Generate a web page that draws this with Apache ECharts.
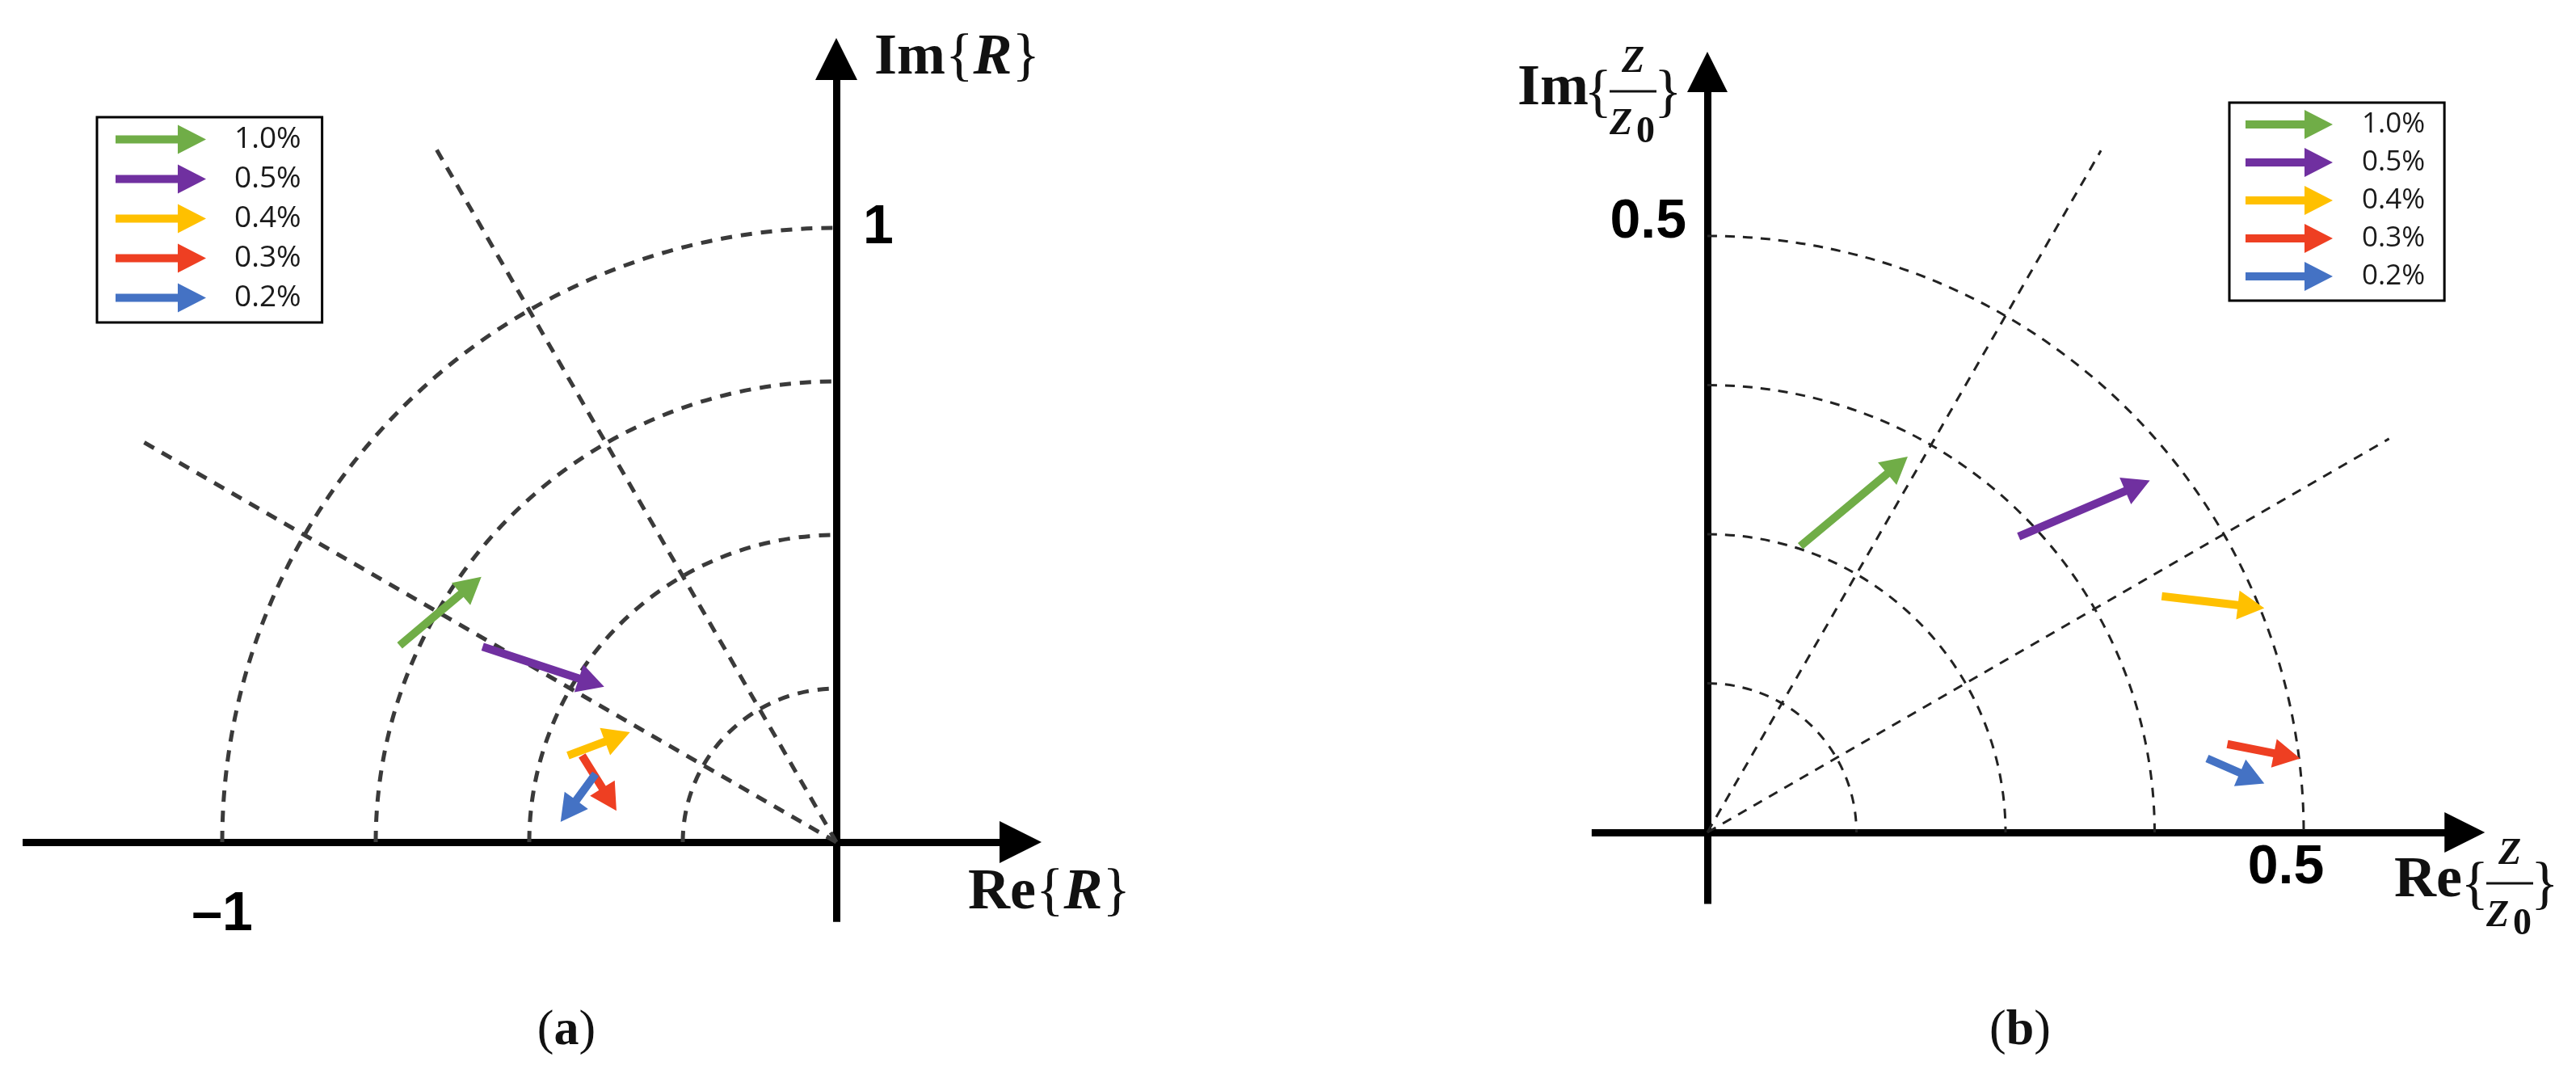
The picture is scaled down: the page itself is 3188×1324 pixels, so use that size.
<!DOCTYPE html>
<html><head><meta charset="utf-8">
<script src="https://cdn.jsdelivr.net/npm/echarts@6/dist/echarts.min.js"></script>
<style>html,body{margin:0;padding:0;background:#fff}#c{width:3188px;height:1324px}</style>
</head><body><div id="c"></div>
<script>
// ---------------- data ----------------
const seriesNames = ['1.0%', '0.5%', '0.4%', '0.3%', '0.2%'];
const seriesColors = ['#70AD47', '#7030A0', '#FFC000', '#EE3F22', '#4472C4'];
// panel (a) : Re{R}, Im{R}; each arrow = [xStart, yStart, xEnd, yEnd]
const arrowsA = [
  [-0.711, 0.320, -0.578, 0.432],
  [-0.576, 0.318, -0.378, 0.253],
  [-0.437, 0.141, -0.336, 0.179],
  [-0.414, 0.141, -0.358, 0.051],
  [-0.392, 0.111, -0.449, 0.033]
];
// panel (b) : Re{Z/Z0}, Im{Z/Z0}
const arrowsB = [
  [0.078, 0.240, 0.168, 0.315],
  [0.261, 0.248, 0.371, 0.295],
  [0.381, 0.198, 0.467, 0.188],
  [0.436, 0.074, 0.497, 0.062],
  [0.419, 0.062, 0.467, 0.041]
];
const circleRadiiA = [0.25, 0.5, 0.75, 1.0];
const circleRadiiB = [0.125, 0.25, 0.375, 0.5];
const radialAnglesA = [120, 150];
const radialLengthA = [1.31, 1.31];
const radialAnglesB = [60, 30];
const radialLengthB = [0.66, 0.66];
const tickValuesAx = [-1];
const tickValuesAy = [1];
const tickValuesBx = [0.5];
const tickValuesBy = [0.5];

// ---------------- layout (pixels) ----------------
const PA = {ox: 1035, oy: 1042, unit: 760, xMin: -1.325, xMax: 0.3, yMin: -0.13, yMax: 1.275, head: 52};
const PB = {ox: 2113, oy: 1030, unit: 1476, xMin: -0.097, xMax: 0.635, yMin: -0.06, yMax: 0.6375, head: 50};
function gridOf(p) {
  return {
    left: p.ox + p.xMin * p.unit,
    top: p.oy - p.yMax * p.unit,
    width: (p.xMax - p.xMin) * p.unit,
    height: (p.yMax - p.yMin) * p.unit,
    containLabel: false,
    outerBoundsMode: 'none'
  };
}
const SERIF = '"Liberation Serif", "Times New Roman", serif';
const SANS = '"Liberation Sans", Arial, sans-serif';
const LEGFONT = '"Open Sans", "Noto Sans", sans-serif';

function axisLineOf(p) {
  return {onZero: false, symbol: ['none', 'triangle'], symbolSize: [p.head, p.head],
    lineStyle: {color: '#000', width: 9, cap: 'butt'}};
}
const tickFmt = v => (v < 0 ? '\u2013' : '') + Math.abs(v);

// axes are shifted (offset) so that they cross at the origin, labels included
function xAxisOf(idx, p, vals, labelExtra) {
  return {
    gridIndex: idx, type: 'value', min: p.xMin, max: p.xMax, position: 'bottom',
    offset: p.yMin * p.unit,
    axisLine: axisLineOf(p), axisTick: {show: false}, splitLine: {show: false},
    axisLabel: Object.assign({customValues: vals, formatter: tickFmt, fontFamily: SANS,
      fontWeight: 'bold', fontSize: 68, color: '#000'}, labelExtra)
  };
}
function yAxisOf(idx, p, vals, labelExtra) {
  return {
    gridIndex: idx, type: 'value', min: p.yMin, max: p.yMax, position: 'left',
    offset: p.xMin * p.unit,
    axisLine: axisLineOf(p), axisTick: {show: false}, splitLine: {show: false},
    axisLabel: Object.assign({customValues: vals, formatter: tickFmt, fontFamily: SANS,
      fontWeight: 'bold', fontSize: 68, color: '#000'}, labelExtra)
  };
}

function arcSeries(idx, radii, startA, endA, style) {
  return {
    type: 'custom', xAxisIndex: idx, yAxisIndex: idx, silent: true, z: 2,
    data: radii.map(r => [r, 0]),
    renderItem(params, api) {
      const c = api.coord([0, 0]);
      const r = api.size([api.value(0), 0])[0];
      return {type: 'arc', shape: {cx: c[0], cy: c[1], r: r, startAngle: startA, endAngle: endA, clockwise: true},
        style: Object.assign({fill: null}, style)};
    }
  };
}
function radialSeries(idx, angles, lengths, style) {
  return {
    type: 'custom', xAxisIndex: idx, yAxisIndex: idx, silent: true, z: 2,
    data: angles.map((a, i) => [a, lengths[i]]),
    renderItem(params, api) {
      const ang = api.value(0) * Math.PI / 180, L = api.value(1);
      const p0 = api.coord([0, 0]);
      const p1 = api.coord([L * Math.cos(ang), L * Math.sin(ang)]);
      return {type: 'line', shape: {x1: p0[0], y1: p0[1], x2: p1[0], y2: p1[1]},
        style: Object.assign({fill: null}, style)};
    }
  };
}
function arrowSeries(idx, i, arr) {
  const color = seriesColors[i];
  return {
    type: 'custom', name: seriesNames[i], xAxisIndex: idx, yAxisIndex: idx, z: 5,
    itemStyle: {color: color},
    data: [arr[i]],
    renderItem(params, api) {
      const a = api.coord([api.value(0), api.value(1)]);
      const b = api.coord([api.value(2), api.value(3)]);
      const dx = b[0] - a[0], dy = b[1] - a[1];
      const len = Math.sqrt(dx * dx + dy * dy);
      const ux = dx / len, uy = dy / len, nx = -uy, ny = ux;
      const hl = 33, hw = 18, sw = 5;
      const bx = b[0] - ux * hl, by = b[1] - uy * hl;
      const pts = [
        [a[0] + nx * sw, a[1] + ny * sw], [bx + nx * sw, by + ny * sw], [bx + nx * hw, by + ny * hw],
        [b[0], b[1]],
        [bx - nx * hw, by - ny * hw], [bx - nx * sw, by - ny * sw], [a[0] - nx * sw, a[1] - ny * sw]
      ];
      return {type: 'polygon', shape: {points: pts}, style: {fill: color}};
    }
  };
}

const dashA = {stroke: '#3a3a3a', lineWidth: 5, lineDash: [14, 11]};
const dashB = {stroke: '#222', lineWidth: 3, lineDash: [12, 10]};

function legendOf(left, top, iw, gap, fs, pad, textPad) {
  const shaft = iw - 35;
  return {
    data: seriesNames, orient: 'vertical', left: left, top: top,
    itemWidth: iw, itemHeight: 36, itemGap: gap, selectedMode: false,
    icon: 'path://M0,13L' + shaft + ',13L' + shaft + ',0L' + iw + ',18L' + shaft + ',36L' + shaft + ',23L0,23Z',
    padding: pad, borderColor: '#000', borderWidth: 3, backgroundColor: '#fff',
    textStyle: {fontFamily: LEGFONT, fontSize: fs, color: '#1a1a1a', padding: [0, 0, 0, textPad]}
  };
}

// fraction axis name builder
function fracLabel(prefix, x0, barX1, barX2, barY) {
  const cx = (barX1 + barX2) / 2;
  return {
    type: 'group', children: [
      {type: 'text', x: x0, y: barY - 3, style: {text: prefix, font: 'bold 72px ' + SERIF, fill: '#111', align: 'left', verticalAlign: 'middle'}},
      {type: 'text', x: barX1 + 3, y: barY + 4, style: {text: '{', font: '72px ' + SERIF, fill: '#111', align: 'right', verticalAlign: 'middle'}},
      {type: 'line', shape: {x1: barX1, y1: barY, x2: barX2, y2: barY}, style: {stroke: '#111', lineWidth: 3}},
      {type: 'text', x: cx, y: barY - 36, style: {text: 'Z', font: 'italic bold 46px ' + SERIF, fill: '#111', align: 'center', verticalAlign: 'middle'}},
      {type: 'text', x: barX1, y: barY + 41, style: {text: 'Z', font: 'italic bold 46px ' + SERIF, fill: '#111', align: 'left', verticalAlign: 'middle'}},
      {type: 'text', x: barX1 + 33, y: barY + 51, style: {text: '0', font: 'bold 46px ' + SERIF, fill: '#111', align: 'left', verticalAlign: 'middle'}},
      {type: 'text', x: barX2 - 3, y: barY + 4, style: {text: '}', font: '72px ' + SERIF, fill: '#111', align: 'left', verticalAlign: 'middle'}}
    ]
  };
}
function simpleLabel(prefix, sym, x0, midY) {
  return {
    type: 'text', x: x0, y: midY,
    style: {
      text: '{b|' + prefix + '}{{bi|' + sym + '}}',
      font: '72px ' + SERIF, fill: '#111', align: 'left', verticalAlign: 'middle',
      rich: {
        b: {fontFamily: SERIF, fontWeight: 'bold', fontSize: 72, fill: '#111'},
        bi: {fontFamily: SERIF, fontWeight: 'bold', fontStyle: 'italic', fontSize: 72, fill: '#111'}
      }
    }
  };
}
function caption(letter, x, y) {
  return {
    type: 'text', x: x, y: y,
    style: {
      text: '({b|' + letter + '})', font: '62px ' + SERIF, fill: '#111', align: 'center', verticalAlign: 'middle',
      rich: {b: {fontFamily: SERIF, fontWeight: 'bold', fontSize: 62, fill: '#111'}}
    }
  };
}

const series = [
  arcSeries(0, circleRadiiA, Math.PI, Math.PI * 1.5, dashA),
  radialSeries(0, radialAnglesA, radialLengthA, dashA),
  arcSeries(1, circleRadiiB, -Math.PI / 2, 0, dashB),
  radialSeries(1, radialAnglesB, radialLengthB, dashB)
];
seriesNames.forEach((n, i) => series.push(arrowSeries(0, i, arrowsA)));
seriesNames.forEach((n, i) => series.push(arrowSeries(1, i, arrowsB)));

const option = {
  animation: false,
  backgroundColor: '#fff',
  grid: [gridOf(PA), gridOf(PB)],
  xAxis: [
    xAxisOf(0, PA, tickValuesAx, {margin: 56}),
    xAxisOf(1, PB, tickValuesBx, {margin: 10, padding: [0, 44, 0, 0]})
  ],
  yAxis: [
    yAxisOf(0, PA, tickValuesAy, {inside: true, margin: 33}),
    yAxisOf(1, PB, tickValuesBy, {margin: 26, verticalAlign: 'bottom', lineHeight: 34})
  ],
  legend: [
    legendOf(120, 145, 112, 12, 37, [9, 26, 12, 23], 30),
    legendOf(2759, 127, 108, 11, 35, [9, 24, 12, 20], 31)
  ],
  series: series,
  graphic: [
    simpleLabel('Im', 'R', 1082, 72),
    simpleLabel('Re', 'R', 1198, 1105),
    fracLabel('Im', 1878, 1992, 2050, 113),
    fracLabel('Re', 2963, 3077, 3135, 1093),
    caption('a', 701, 1276),
    caption('b', 2500, 1276)
  ]
};
const chart = echarts.init(document.getElementById('c'), null, {renderer: 'canvas'});
chart.setOption(option);
</script>
</body></html>
